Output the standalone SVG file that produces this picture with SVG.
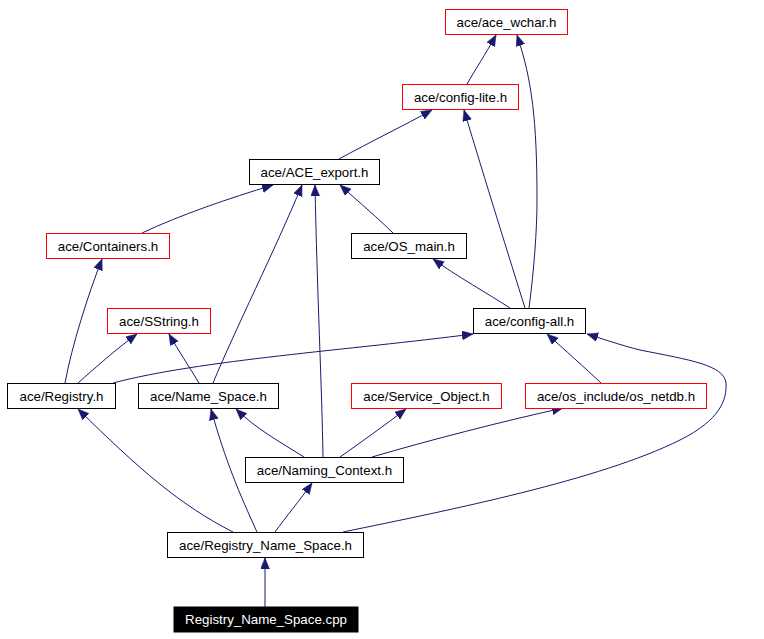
<svg xmlns="http://www.w3.org/2000/svg" width="764" height="639" viewBox="0 0 764 639">
<defs>
<marker id="ah" markerUnits="userSpaceOnUse" markerWidth="12" markerHeight="10" refX="11" refY="4.5" orient="auto">
<path d="M0,0 L11,4.5 L0,9 z" fill="#191970" stroke="#191970" stroke-width="0.5"/>
</marker>
<style>
.n rect{fill:#ffffff;stroke:#000000;stroke-width:1}
.r rect{stroke:#ff0000}
.n text{font-family:"Liberation Sans",Arial,sans-serif;font-size:13.3px;text-anchor:middle;fill:#000000}
#cpp rect{fill:#000000}
#cpp text{fill:#ffffff}
#edges path{fill:none;stroke:#191970;stroke-width:1;marker-end:url(#ah)}
</style>
</defs>
<rect width="764" height="639" fill="#ffffff"/>
<g id="edges">
<path d="M467,84 C475,70 485,55 496,35"/>
<path d="M529,308 C534,270 537,230 537,200 C537,120 532,80 517,35"/>
<path d="M339,159 C370,142 405,125 432,110"/>
<path d="M525,308 C510,260 485,180 464,110"/>
<path d="M142,233 C180,215 230,198 273,185"/>
<path d="M213,383 C235,330 275,250 302,185"/>
<path d="M323,457 C322,390 317,290 315,185"/>
<path d="M393,233 C380,220 360,203 340,185"/>
<path d="M510,308 C490,295 455,275 433,259"/>
<path d="M65,383 C72,345 88,295 102,259"/>
<path d="M78,383 C95,368 115,350 137,334"/>
<path d="M199,383 C190,368 178,350 169,334"/>
<path d="M113,383 C200,360 350,350 473,334"/>
<path d="M304,457 C280,442 255,428 236,409"/>
<path d="M257,532 C240,495 225,460 211,409"/>
<path d="M233,532 C180,505 140,470 78,409"/>
<path d="M275,532 C285,518 300,500 312,483"/>
<path d="M343,532 C450,510 600,480 680,440 C720,420 727,400 726,383 C724,365 690,360 640,350 C620,345 600,338 587,334"/>
<path d="M340,457 C360,443 385,425 406,409"/>
<path d="M372,457 C430,440 500,422 563,408"/>
<path d="M601,383 C585,368 565,350 547,334"/>
<path d="M265,607 L265,558"/>
</g>
<g id="ace_wchar" class="n r"><rect x="445.5" y="9.5" width="122" height="25"/><text x="506.5" y="26.5">ace/ace_wchar.h</text></g>
<g id="config_lite" class="n r"><rect x="402.5" y="84.5" width="116" height="25"/><text x="460.5" y="101.5">ace/config-lite.h</text></g>
<g id="ace_export" class="n"><rect x="249.5" y="159.5" width="130" height="25"/><text x="314.5" y="176.5">ace/ACE_export.h</text></g>
<g id="containers" class="n r"><rect x="46.5" y="233.5" width="123" height="25"/><text x="108" y="250.5">ace/Containers.h</text></g>
<g id="os_main" class="n"><rect x="351.5" y="233.5" width="115" height="25"/><text x="409" y="250.5">ace/OS_main.h</text></g>
<g id="sstring" class="n r"><rect x="107.5" y="308.5" width="103" height="25"/><text x="159" y="325.5">ace/SString.h</text></g>
<g id="config_all" class="n"><rect x="473.5" y="308.5" width="112" height="25"/><text x="529.5" y="325.5">ace/config-all.h</text></g>
<g id="registry" class="n"><rect x="7.5" y="383.5" width="108" height="25"/><text x="61.5" y="400.5">ace/Registry.h</text></g>
<g id="name_space" class="n"><rect x="138.5" y="383.5" width="140" height="25"/><text x="208.5" y="400.5">ace/Name_Space.h</text></g>
<g id="service_object" class="n r"><rect x="351.5" y="383.5" width="150" height="25"/><text x="426.5" y="400.5">ace/Service_Object.h</text></g>
<g id="os_netdb" class="n r"><rect x="525.5" y="383.5" width="181" height="25"/><text x="616" y="400.5">ace/os_include/os_netdb.h</text></g>
<g id="naming_context" class="n"><rect x="245.5" y="457.5" width="158" height="25"/><text x="324.5" y="474.5">ace/Naming_Context.h</text></g>
<g id="registry_name_space_h" class="n"><rect x="167.5" y="532.5" width="196" height="25"/><text x="265.5" y="549.5">ace/Registry_Name_Space.h</text></g>
<g id="cpp" class="n"><rect x="174" y="607" width="184" height="25"/><text x="266" y="624">Registry_Name_Space.cpp</text></g>
</svg>
